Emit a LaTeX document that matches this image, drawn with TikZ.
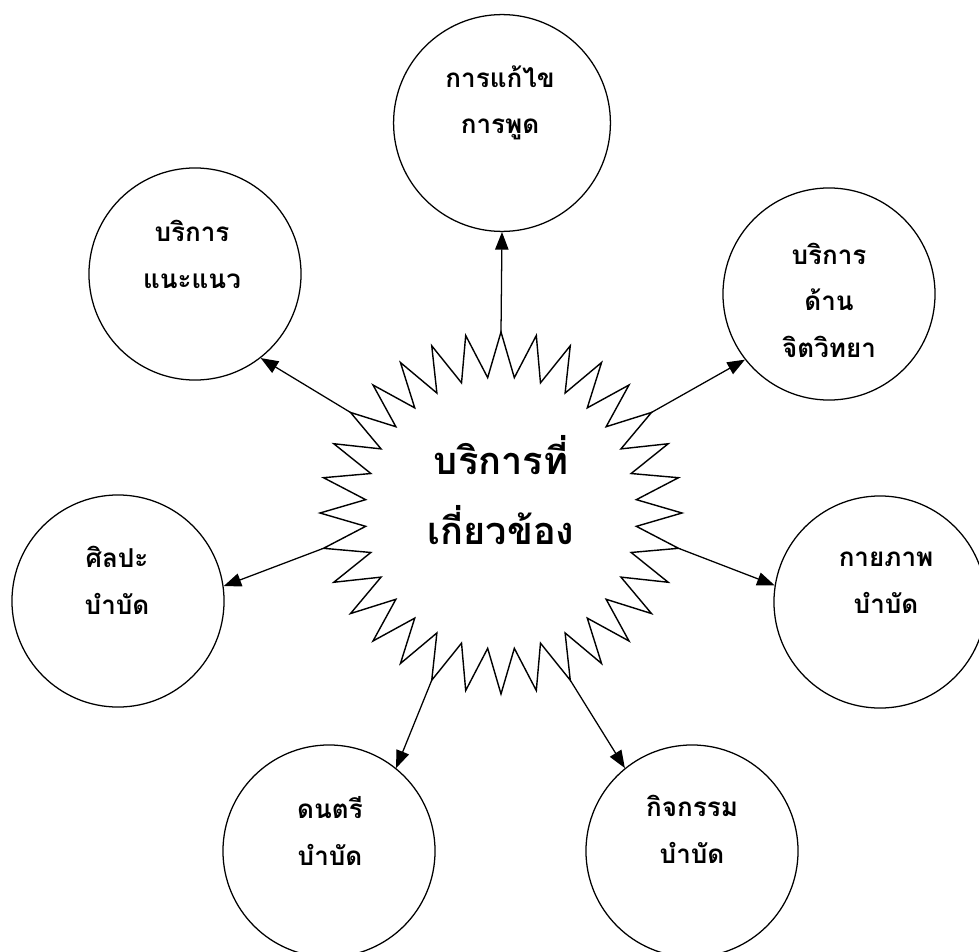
\documentclass[tikz,border=0pt]{standalone}
\usepackage{fontspec}
\newfontfamily\thaifont[Script=Thai]{Loma}
\usetikzlibrary{arrows.meta}
\begin{document}
\begin{tikzpicture}[x=0.025cm,y=-0.025cm,
  bubble/.style={circle, draw, line width=0.9pt, minimum size=5.3cm, inner sep=0pt},
  lbl/.style={font=\thaifont\bfseries\fontsize{18.5}{33}\selectfont, align=center, anchor=base, inner sep=0pt},
  hubtext/.style={font=\thaifont\bfseries\fontsize{27}{50}\selectfont, align=center, inner sep=0pt},
  conn/.style={line width=0.9pt, -{Triangle[length=12.5pt,width=9.5pt]}},
  starline/.style={line width=1pt, line join=miter}]
\useasboundingbox (0,0) rectangle (979,952);
% star
\draw[starline] (501,332) \foreach \k in {1,...,63}{ -- ({501+(181-45*mod(\k,2))*cos(90+5.625*\k)}, {513-(181-45*mod(\k,2))*sin(90+5.625*\k)}) } -- cycle;
\foreach \k in {0,...,31} \coordinate (o\k) at ({501+181*cos(90+11.25*\k)}, {513-181*sin(90+11.25*\k)});
\node[hubtext] (hub) at (501,490) {บริการที่\\เกี่ยวข้อง};
% circles
\node[bubble, minimum size=5.42cm] (c1) at (502,123) {};
\node[bubble] (c2) at (195,274) {};
\node[bubble] (c3) at (829,294) {};
\node[bubble] (c4) at (880,602) {};
\node[bubble] (c5) at (118,601) {};
\node[bubble] (c6) at (329,851) {};
\node[bubble] (c7) at (692,851) {};
% labels (anchor = baseline of last line)
\node[lbl] (t1) at (500,134) {การแก้ไข\\การพูด};
\node[lbl] (t2) at (192,288) {บริการ\\แนะแนว};
\node[lbl] (t3) at (829,357) {บริการ\\ด้าน\\จิตวิทยา};
\node[lbl] (t4) at (886,613) {กายภาพ\\บำบัด};
\node[lbl] (t5) at (117,614) {ศิลปะ\\บำบัด};
\node[lbl] (t6) at (330,865) {ดนตรี\\บำบัด};
\node[lbl] (t7) at (692,863) {กิจกรรม\\บำบัด};
% connectors
\draw[conn] (o0) -- (c1.south);
\draw[conn] (o5) -- (c2.-52.7);
\draw[conn] (o27) -- (c3.218);
\draw[conn] (o23) -- (c4.171.6);
\draw[conn] (o9) -- (c5.8.4);
\draw[conn] (o14) -- (c6.51.7);
\draw[conn] (o18) -- (c7.129);
\end{tikzpicture}
\end{document}
